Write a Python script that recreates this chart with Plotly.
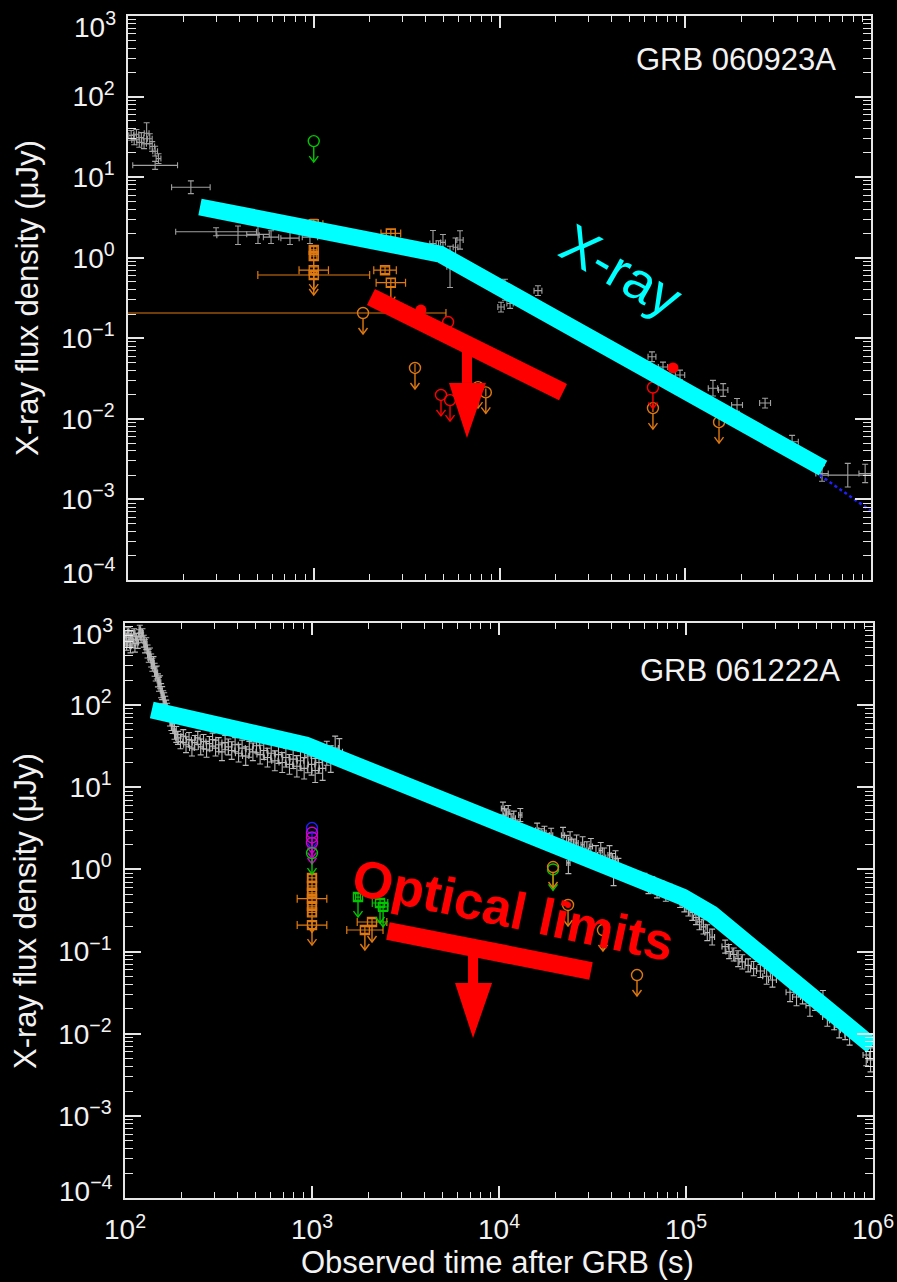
import numpy as np
import plotly.graph_objects as go

W, H = 897, 1282

# ================= GRB 060923A (top panel) =================
# Swift/XRT light curve: time (s), flux density (uJy), x-error factor, y-error factor
xrt1_t = [104, 108, 111, 115, 118, 122, 126, 131, 135, 140, 146, 140, 218, 298, 391, 501, 589, 745, 954,
          4385, 4700, 4961, 5415, 5800, 6130, 10190, 10700, 11400, 16110,
          66200, 75900, 93700, 141000, 160000, 190000, 269000, 376000, 545000, 750000, 930000]
xrt1_f = [33, 29, 34, 27, 31, 26, 35, 30, 24, 21, 17, 14, 7.5, 2.1, 1.9, 1.95, 1.8, 1.75, 1.8,
          1.5, 1.25, 1.55, 0.77, 1.35, 1.66, 0.244, 0.40, 0.27, 0.39,
          0.059, 0.044, 0.035, 0.024, 0.0228, 0.0149, 0.0157, 0.0052, 0.0021, 0.0020, 0.0021]
xrt1_dt = [1.03, 1.03, 1.03, 1.03, 1.03, 1.03, 1.03, 1.03, 1.03, 1.03, 1.03, 1.32, 1.27, 1.65, 1.3, 1.15, 1.1, 1.12, 1.1,
           1.04, 1.03, 1.03, 1.04, 1.03, 1.04, 1.04, 1.04, 1.04, 1.05,
           1.05, 1.06, 1.06, 1.06, 1.06, 1.07, 1.07, 1.08, 1.08, 1.4, 1.08]
xrt1_df = [1.15, 1.15, 1.15, 1.15, 1.15, 1.15, 1.35, 1.15, 1.15, 1.15, 1.15, 1.12, 1.2, 1.12, 1.3, 1.3, 1.2, 1.2, 1.2,
           1.45, 1.3, 1.25, 1.8, 1.3, 1.3, 1.15, 1.35, 1.15, 1.15,
           1.15, 1.15, 1.15, 1.25, 1.2, 1.2, 1.15, 1.2, 1.25, 1.4, 1.3]

# optical (converted) points, orange squares
sq1_t = [1000, 1000, 1000, 1000, 1000, 2600, 2420, 2600]
sq1_f = [2.6, 1.25, 1.05, 0.70, 0.61, 2.0, 0.70, 0.49]
sq1_dt = [1.12, 1.04, 1.04, 1.2, 2.0, 1.13, 1.15, 1.2]
sq1_df = [1.15, 1.1, 1.1, 1.1, 1.1, 1.12, 1.1, 1.12]
sq1_lim = [0, 0, 1, 1, 1, 0, 0, 1]
# orange upper limits (circles)
ul1o_t = [1842, 3508, 7660, 8440, 67000, 152000]
ul1o_f = [0.206, 0.0428, 0.0248, 0.0213, 0.0136, 0.0091]
ul1o_tlo = [60, 3508, 7660, 8440, 67000, 152000]
ul1o_thi = [5150, 3508, 7660, 8440, 67000, 152000]
# red points
r1_t = [3776, 85900]
r1_f = [0.224, 0.0428]
r1ul_t = [5290, 4842, 5415, 67000]
r1ul_f = [0.159, 0.0198, 0.0171, 0.0245]
# green limit
g1ul_t = [1000]
g1ul_f = [28]

# overlays (top)
cyan1_t = [244, 4786, 552000]
cyan1_f = [4.26, 1.11, 0.00245]
model1_t = [530000, 1000000]
model1_f = [0.0020, 0.00072]
red1_bar_t = [2032, 21980]
red1_bar_f = [0.325, 0.0215]
red1_stem_t = [6683, 6683]
red1_stem_f = [0.0826, 0.0279]
red1_head_t = [5346, 8451, 6683]
red1_head_f = [0.0279, 0.0279, 0.00578]

# ================= GRB 061222A (bottom panel) =================
xrt2_t = [101, 102, 104, 105, 107, 108, 110, 112, 113, 115, 117, 119, 120, 122, 124, 126, 128, 130, 132, 134,
          136, 138, 140, 142, 144, 146, 148, 150, 152, 154, 156, 158, 160, 162, 164, 166, 168, 171, 174, 177,
          180, 184, 188,
          192, 198, 205, 212, 220, 228, 236, 245, 254, 263, 273, 283, 294, 305, 317, 330, 343, 357, 372, 388,
          405, 423, 442, 462, 483, 505, 528, 552, 578, 605, 633, 662, 693, 725, 758, 793, 830, 868, 908, 950,
          995, 1040, 1090, 1140, 1200, 1260, 1330, 1400,
          10500, 10800, 11200, 11600, 12000, 12500, 13000, 16000, 16800, 17500, 18200, 19000,
          22000, 23000, 23500, 24000, 25000, 26000, 28000, 29500, 31000, 33000, 35000, 36500,
          39000, 40500, 41000, 42000, 43500, 60000, 63000, 66000, 70000, 74000, 78000, 82000,
          88000, 93000, 98000, 103000, 108000, 113000, 118000, 124000, 130000, 138000,
          162000, 170000, 180000, 190000, 200000, 215000, 230000, 250000, 270000, 290000,
          360000, 390000, 420000, 460000, 490000, 540000, 570000, 620000, 660000, 710000, 750000,
          920000, 970000]
xrt2_f = [700, 560, 780, 620, 520, 690, 600, 760, 530, 650, 580, 720, 840, 660, 760, 600, 520, 560, 450, 400,
          420, 350, 310, 330, 270, 240, 250, 200, 180, 190, 150, 140, 125, 118, 105, 96, 88, 78, 68, 60,
          55, 48, 44,
          40, 36, 42, 33, 38, 30, 35, 40, 31, 36, 29, 34, 38, 30, 33, 27, 35, 31, 28, 33,
          26, 30, 24, 29, 27, 32, 25, 28, 23, 26, 21, 25, 20, 23, 19, 22, 18, 21, 17, 24,
          19, 16, 20, 17, 26, 22, 30, 27,
          5.5, 4.5, 5.0, 3.8, 4.2, 3.2, 4.6, 3.0, 2.5, 2.8, 2.2, 2.6,
          2.6, 2.0, 1.2, 2.3, 1.8, 2.1, 2.0, 1.7, 1.9, 1.5, 1.7, 1.4,
          1.5, 1.2, 0.89, 1.35, 1.05, 0.75, 0.62, 0.68, 0.55, 0.6, 0.5, 0.55,
          0.5, 0.42, 0.38, 0.33, 0.30, 0.26, 0.23, 0.20, 0.17, 0.15,
          0.115, 0.10, 0.092, 0.082, 0.075, 0.068, 0.062, 0.058, 0.050, 0.045,
          0.032, 0.028, 0.030, 0.022, 0.025, 0.024, 0.016, 0.0145, 0.012, 0.011, 0.0098,
          0.0055, 0.0048]
xrt2_dt = [1.01, 1.01, 1.01, 1.01, 1.01, 1.01, 1.01, 1.01, 1.01, 1.01, 1.01, 1.01, 1.01, 1.01, 1.01, 1.01, 1.01, 1.01, 1.01, 1.01,
           1.01, 1.01, 1.01, 1.01, 1.01, 1.01, 1.01, 1.01, 1.01, 1.01, 1.01, 1.01, 1.01, 1.01, 1.01, 1.01, 1.01, 1.012, 1.012, 1.012,
           1.015, 1.015, 1.015,
           1.03, 1.03, 1.03, 1.03, 1.03, 1.03, 1.03, 1.03, 1.03, 1.03, 1.04, 1.04, 1.04, 1.04, 1.04, 1.04, 1.04, 1.04, 1.04, 1.04,
           1.04, 1.04, 1.04, 1.04, 1.04, 1.04, 1.04, 1.04, 1.04, 1.04, 1.04, 1.04, 1.04, 1.04, 1.04, 1.04, 1.04, 1.04, 1.04, 1.04,
           1.04, 1.04, 1.04, 1.04, 1.04, 1.04, 1.04, 1.04,
           1.02, 1.02, 1.02, 1.02, 1.02, 1.02, 1.02, 1.02, 1.02, 1.02, 1.02, 1.02,
           1.02, 1.02, 1.02, 1.02, 1.02, 1.02, 1.02, 1.02, 1.02, 1.02, 1.02, 1.02,
           1.02, 1.02, 1.02, 1.02, 1.02, 1.03, 1.03, 1.03, 1.03, 1.03, 1.03, 1.03,
           1.03, 1.03, 1.03, 1.03, 1.03, 1.03, 1.03, 1.03, 1.03, 1.03,
           1.04, 1.04, 1.04, 1.04, 1.04, 1.04, 1.04, 1.05, 1.05, 1.05,
           1.05, 1.05, 1.05, 1.05, 1.05, 1.05, 1.06, 1.06, 1.06, 1.06, 1.06,
           1.04, 1.04]
xrt2_df = [1.15, 1.2, 1.12, 1.18, 1.2, 1.15, 1.2, 1.12, 1.2, 1.15, 1.18, 1.15, 1.12, 1.15, 1.12, 1.18, 1.2, 1.18, 1.2, 1.2,
           1.18, 1.2, 1.2, 1.18, 1.2, 1.22, 1.2, 1.2, 1.22, 1.2, 1.22, 1.2, 1.2, 1.2, 1.22, 1.2, 1.2, 1.2, 1.22, 1.22,
           1.22, 1.25, 1.25,
           1.2, 1.22, 1.2, 1.25, 1.22, 1.25, 1.22, 1.2, 1.25, 1.22, 1.25, 1.22, 1.2, 1.25, 1.22, 1.28, 1.22, 1.25, 1.28, 1.22,
           1.28, 1.25, 1.3, 1.25, 1.28, 1.22, 1.3, 1.28, 1.3, 1.28, 1.32, 1.28, 1.32, 1.3, 1.32, 1.3, 1.35, 1.3, 1.35, 1.6,
           1.35, 1.4, 1.35, 1.4, 1.4, 1.45, 1.4, 1.45,
           1.2, 1.22, 1.2, 1.25, 1.22, 1.25, 1.2, 1.22, 1.25, 1.2, 1.25, 1.22,
           1.25, 1.3, 1.35, 1.25, 1.3, 1.25, 1.25, 1.28, 1.25, 1.3, 1.25, 1.3,
           1.3, 1.3, 1.4, 1.25, 1.3, 1.2, 1.22, 1.2, 1.22, 1.2, 1.22, 1.2,
           1.2, 1.22, 1.25, 1.22, 1.25, 1.22, 1.25, 1.22, 1.25, 1.25,
           1.2, 1.22, 1.2, 1.25, 1.22, 1.2, 1.22, 1.2, 1.25, 1.22,
           1.3, 1.28, 1.3, 1.35, 1.3, 1.4, 1.3, 1.3, 1.35, 1.3, 1.35,
           1.35, 1.4]

# optical (converted) points
sq2o_t = [1000, 1000, 1000, 1000, 1000, 1000, 1000, 2094, 1918]
sq2o_f = [0.787, 0.63, 0.52, 0.44, 0.36, 0.30, 0.21, 0.229, 0.183]
sq2o_dt = [1.05, 1.05, 1.05, 1.2, 1.05, 1.05, 1.2, 1.2, 1.25]
sq2o_df = [1.1, 1.1, 1.1, 1.1, 1.1, 1.1, 1.1, 1.1, 1.1]
sq2o_lim = [0, 0, 0, 0, 0, 1, 1, 1, 1]
sq2g_t = [1762, 2311, 2400]
sq2g_f = [0.461, 0.39, 0.35]
sq2g_dt = [1.03, 1.1, 1.06]
sq2g_df = [1.1, 1.1, 1.1]
sq2g_lim = [1, 1, 1]
ul2b_t = [1000]
ul2b_f = [3.19]
ul2m_t = [1000, 1000, 1000]
ul2m_f = [2.8, 2.45, 2.1]
ul2g_t = [1000, 19450]
ul2g_f = [1.58, 1.0]
ul2o_t = [19450, 23400, 35970, 54700]
ul2o_f = [1.07, 0.369, 0.183, 0.0518]
r2_t = [23400]
r2_f = [0.369]

# overlays (bottom)
cyan2_t = [139, 929, 96400, 137700, 990000]
cyan2_f = [87.3, 32.7, 0.461, 0.286, 0.00708]
red2_bar_t = [2547, 31040]
red2_bar_f = [0.178, 0.058]
red2_stem_t = [7264, 7264]
red2_stem_f = [0.11, 0.0414]
red2_head_t = [5821, 9184, 7264]
red2_head_f = [0.0414, 0.0414, 0.00887]

# axis ticks
x_tickvals = [1e2, 1e3, 1e4, 1e5, 1e6]
x_ticktext = ["10<sup>2</sup>", "10<sup>3</sup>", "10<sup>4</sup>", "10<sup>5</sup>", "10<sup>6</sup>"]
y_tickvals = [1e-4, 1e-3, 1e-2, 1e-1, 1e0, 1e1, 1e2, 1e3]
y_ticktext = ["10<sup>\u22124</sup>", "10<sup>\u22123</sup>", "10<sup>\u22122</sup>", "10<sup>\u22121</sup>",
              "10<sup>0</sup>", "10<sup>1</sup>", "10<sup>2</sup>", "10<sup>3</sup>"]
x_minor = [k * 10.0 ** e for e in range(2, 6) for k in range(2, 10)]
y_minor = [k * 10.0 ** e for e in range(-4, 3) for k in range(2, 10)]

# ---------------- layout geometry (pixels) ----------------
TOP = dict(x0=128, x1=871, y0=16, y1=580)
BOT = dict(x0=125, x1=873, y0=623, y1=1198)


def dom(p):
    return [p["x0"] / W, p["x1"] / W], [1 - p["y1"] / H, 1 - p["y0"] / H]


def ppd(p):
    return (p["x1"] - p["x0"]) / 4.0, (p["y1"] - p["y0"]) / 7.0


GRAY1 = "#a0a0a0"
GRAY2 = "#b8b8b8"
ORANGE = "#e07a10"
GREEN = "#00c800"
RED = "#ff0000"
CYAN = "#00ffff"
MAGENTA = "#d000d0"
BLUE = "#2020ff"
AX = "#e6e6e6"
TXT = "#f2f2f2"


def err(vals, fac):
    v = np.array(vals, float)
    k = np.array(fac, float)
    return dict(type="data", symmetric=False, array=(v * k - v).tolist(),
                arrayminus=(v - v / k).tolist())


def arrows(ts, fs, p, start=5.5, drop=21, arm_w=4.5, arm_h=6):
    px, py = ppd(p)
    xs, ys = [], []
    for t, f in zip(ts, fs):
        lx, ly = np.log10(t), np.log10(f)
        top = 10 ** (ly - start / py)
        tip = 10 ** (ly - drop / py)
        arm = 10 ** (ly - (drop - arm_h) / py)
        xl = 10 ** (lx - arm_w / px)
        xr = 10 ** (lx + arm_w / px)
        xs += [t, t, None, xl, t, xr, None]
        ys += [top, tip, None, arm, tip, arm, None]
    return xs, ys


fig = go.Figure()


def add(tr, panel):
    if panel == 1:
        tr.update(xaxis="x", yaxis="y")
    else:
        tr.update(xaxis="x2", yaxis="y2")
    fig.add_trace(tr)


def xray(ts, fs, dts, dfs, color, panel):
    ex = err(ts, dts)
    ey = err(fs, dfs)
    add(go.Scatter(x=ts, y=fs, mode="markers", marker=dict(size=1, color="rgba(0,0,0,0)"),
                   error_x=dict(**ex, color=color, thickness=1.1, width=3),
                   error_y=dict(**ey, color=color, thickness=1.1, width=3),
                   hoverinfo="skip"), panel)


def ul_circles(ts, fs, color, panel, p):
    add(go.Scatter(x=ts, y=fs, mode="markers",
                   marker=dict(symbol="circle-open", size=11, color=color, line=dict(width=1.4, color=color)),
                   hoverinfo="skip"), panel)
    ax, ay = arrows(ts, fs, p)
    add(go.Scatter(x=ax, y=ay, mode="lines", line=dict(color=color, width=1.4), hoverinfo="skip"), panel)


def squares(ts, fs, dts, dfs, lims, color, panel, p):
    add(go.Scatter(x=ts, y=fs, mode="markers",
                   marker=dict(symbol="square-open", size=9, color=color, line=dict(width=1.4, color=color)),
                   error_x=dict(**err(ts, dts), color=color, thickness=1.2, width=4),
                   error_y=dict(**err(fs, dfs), color=color, thickness=1.2, width=4),
                   hoverinfo="skip"), panel)
    lt = [t for t, l in zip(ts, lims) if l]
    lf = [f for f, l in zip(fs, lims) if l]
    if lt:
        ax, ay = arrows(lt, lf, p, start=4.5, drop=20)
        add(go.Scatter(x=ax, y=ay, mode="lines", line=dict(color=color, width=1.4), hoverinfo="skip"), panel)


# ---------- top panel data ----------
xray(xrt1_t, xrt1_f, xrt1_dt, xrt1_df, GRAY1, 1)
squares(sq1_t, sq1_f, sq1_dt, sq1_df, sq1_lim, ORANGE, 1, TOP)
ul1o_ex = dict(type="data", symmetric=False,
               array=[h - t for h, t in zip(ul1o_thi, ul1o_t)],
               arrayminus=[t - l for l, t in zip(ul1o_tlo, ul1o_t)])
add(go.Scatter(x=ul1o_t, y=ul1o_f, mode="markers",
               marker=dict(symbol="circle-open", size=11, color=ORANGE, line=dict(width=1.4, color=ORANGE)),
               error_x=dict(**ul1o_ex, color=ORANGE, thickness=1.2, width=4), hoverinfo="skip"), 1)
ax_, ay_ = arrows(ul1o_t, ul1o_f, TOP)
add(go.Scatter(x=ax_, y=ay_, mode="lines", line=dict(color=ORANGE, width=1.4), hoverinfo="skip"), 1)
ul_circles(r1ul_t, r1ul_f, RED, 1, TOP)
add(go.Scatter(x=r1_t, y=r1_f, mode="markers", marker=dict(symbol="circle", size=11, color=RED),
               hoverinfo="skip"), 1)
ul_circles(g1ul_t, g1ul_f, GREEN, 1, TOP)
add(go.Scatter(x=model1_t, y=model1_f, mode="lines", line=dict(color=BLUE, width=2.5, dash="dot"),
               hoverinfo="skip"), 1)

# ---------- bottom panel data ----------
xray(xrt2_t, xrt2_f, xrt2_dt, xrt2_df, GRAY2, 2)
squares(sq2o_t, sq2o_f, sq2o_dt, sq2o_df, sq2o_lim, ORANGE, 2, BOT)
squares(sq2g_t, sq2g_f, sq2g_dt, sq2g_df, sq2g_lim, GREEN, 2, BOT)
ul_circles(ul2b_t, ul2b_f, BLUE, 2, BOT)
ul_circles(ul2m_t, ul2m_f, MAGENTA, 2, BOT)
ul_circles(ul2g_t, ul2g_f, GREEN, 2, BOT)
ul_circles(ul2o_t, ul2o_f, ORANGE, 2, BOT)
add(go.Scatter(x=r2_t, y=r2_f, mode="markers", marker=dict(symbol="circle", size=6, color=RED),
               hoverinfo="skip"), 2)

# ---------- hand-drawn overlays ----------
for (ct, cf, bt, bf, st, sf, ht, hf, panel) in [
        (cyan1_t, cyan1_f, red1_bar_t, red1_bar_f, red1_stem_t, red1_stem_f, red1_head_t, red1_head_f, 1),
        (cyan2_t, cyan2_f, red2_bar_t, red2_bar_f, red2_stem_t, red2_stem_f, red2_head_t, red2_head_f, 2)]:
    add(go.Scatter(x=ct, y=cf, mode="lines", line=dict(color=CYAN, width=17), hoverinfo="skip"), panel)
    add(go.Scatter(x=bt, y=bf, mode="lines", line=dict(color=RED, width=18), hoverinfo="skip"), panel)
    add(go.Scatter(x=st, y=sf, mode="lines", line=dict(color=RED, width=10), hoverinfo="skip"), panel)
    add(go.Scatter(x=ht, y=hf, mode="lines", fill="toself", fillcolor=RED, line=dict(color=RED, width=0),
                   hoverinfo="skip"), panel)


def axis(p, which, labels):
    xd, yd = dom(p)
    base = dict(type="log", showgrid=False, zeroline=False, showline=True, linecolor=AX, linewidth=1.5,
                mirror="ticks", ticks="inside", tickcolor=AX, tickwidth=1.5, automargin=False,
                tickfont=dict(size=28, color=TXT), fixedrange=True)
    if which == "x":
        base.update(domain=xd, range=[2, 6], ticklen=12, tickmode="array", tickvals=x_tickvals,
                    ticktext=x_ticktext, showticklabels=labels, ticklabelstandoff=6,
                    minor=dict(ticks="inside", ticklen=6, tickwidth=1.2, tickcolor=AX,
                               tickmode="array", tickvals=x_minor))
    else:
        # the two end labels sit on the frame and are drawn below, nudged inward as in the original
        base.update(domain=yd, range=[-4, 3], ticklen=16, tickmode="array", tickvals=y_tickvals[1:-1],
                    ticktext=y_ticktext[1:-1], ticklabelstandoff=6,
                    minor=dict(ticks="inside", ticklen=8, tickwidth=1.2, tickcolor=AX,
                               tickmode="array", tickvals=y_minor))
    return base


fig.update_layout(
    width=W, height=H, margin=dict(l=0, r=0, t=0, b=0, pad=0, autoexpand=False),
    paper_bgcolor="black", plot_bgcolor="black", showlegend=False,
    font=dict(family="Liberation Sans, Arial, Helvetica, sans-serif", color=TXT),
    xaxis=dict(**axis(TOP, "x", False), anchor="y"),
    yaxis=dict(**axis(TOP, "y", True), anchor="x"),
    xaxis2=dict(**axis(BOT, "x", True), anchor="y2"),
    yaxis2=dict(**axis(BOT, "y", True), anchor="x2"),
)

ann = [
    dict(text="GRB 060923A", x=838 / W, y=1 - 60 / H, xanchor="right", yanchor="middle",
         font=dict(size=31, color=TXT)),
    dict(text="GRB 061222A", x=842 / W, y=1 - 670 / H, xanchor="right", yanchor="middle",
         font=dict(size=31, color=TXT)),
    dict(text="X-ray flux density (μJy)", x=28 / W, y=1 - 298 / H, textangle=-90,
         xanchor="center", yanchor="middle", font=dict(size=31, color=TXT)),
    dict(text="X-ray flux density (μJy)", x=25 / W, y=1 - 911 / H, textangle=-90,
         xanchor="center", yanchor="middle", font=dict(size=31, color=TXT)),
    dict(text="Observed time after GRB (s)", x=498 / W, y=1 - 1262 / H, xanchor="center",
         yanchor="middle", font=dict(size=31, color=TXT)),
    dict(text="X-ray", x=621 / W, y=1 - 270 / H, textangle=30, xanchor="center", yanchor="middle",
         font=dict(size=54, color=CYAN)),
    dict(text="<b>Optical limits</b>", x=513 / W, y=1 - 910 / H, textangle=12, xanchor="center",
         yanchor="middle", font=dict(size=52, color=RED)),
]
for a in ann:
    a.update(xref="paper", yref="paper", showarrow=False)

# end tick labels of the two y axes
for p, yr in [(TOP, "y"), (BOT, "y2")]:
    ann.append(dict(text=y_ticktext[-1], x=(p["x0"] - 10) / W, xref="paper", y=np.log10(y_tickvals[-1]),
                    yref=yr, xanchor="right", yanchor="middle", yshift=-9, showarrow=False,
                    font=dict(size=28, color=TXT)))
    ann.append(dict(text=y_ticktext[0], x=(p["x0"] - 10) / W, xref="paper", y=np.log10(y_tickvals[0]),
                    yref=yr, xanchor="right", yanchor="middle", yshift=9, showarrow=False,
                    font=dict(size=28, color=TXT)))
fig.update_layout(annotations=ann)

fig.write_html("out.html", config={"responsive": False})
